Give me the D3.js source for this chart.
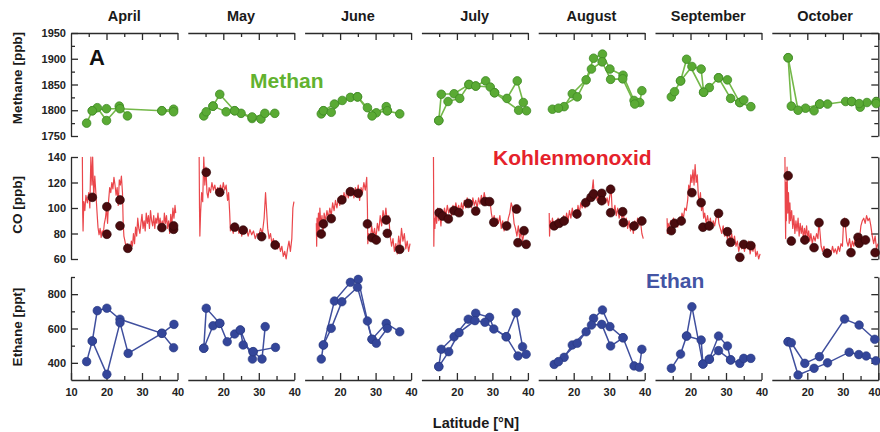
<!DOCTYPE html>
<html>
<head>
<meta charset="utf-8">
<script src="https://cdn.jsdelivr.net/npm/d3@7"></script>
<style>
  body { margin: 0; background: #fff; }
  svg { display: block; font-family: "Liberation Sans", Arial, sans-serif; }
</style>
</head>
<body>
<div id="chart"></div>
<script>
const months = ["April", "May", "June", "July", "August", "September", "October"];

// tick values
const latTicks = [15, 20, 25, 30, 35, 40];
const methaneTicks = [1750, 1775, 1800, 1825, 1850, 1875, 1900, 1925, 1950];
const methaneLabels = [1750, 1800, 1850, 1900, 1950];
const coTicks = [60, 80, 100, 120, 140];
const coLabels = [60, 80, 100, 120, 140];
const ethaneTicks = [400, 500, 600, 700, 800, 900];
const ethaneLabels = [400, 600, 800];

// methane [latitude, ppb], flight legs per month
const methaneLegs = [
  [[[14.4,1775],[16,1799],[17.4,1805],[20,1780],[23.6,1808],[25.9,1789]],
   [[16,1799],[20,1803],[23.8,1803],[35.6,1799],[38.9,1802],[38.9,1797],[35.6,1799]]],
  [[[14.5,1789],[15.2,1797],[17.1,1808],[19,1831],[23.2,1799],[25,1794],[28.1,1784],[30.6,1783],[31.7,1794]],
   [[17.1,1808],[20.8,1797],[23.2,1799],[28.1,1787],[34.5,1794]]],
  [[[14.7,1793],[15.3,1799],[18.4,1812],[22.9,1825],[24.9,1826],[27.7,1805],[30.2,1795],[33.3,1799],[36.8,1793]],
   [[15.3,1799],[17.5,1796],[20.6,1819],[24.9,1826],[29,1789],[33,1807],[33.3,1799]]],
  [[[14.9,1780],[15.6,1831],[19.2,1832],[23.4,1850],[25.3,1847],[28.1,1857],[30.6,1834],[34.1,1823],[37,1857],[38.7,1815]],
   [[14.9,1780],[17.5,1817],[20.8,1823],[23.4,1850],[25.3,1847],[29.4,1845],[30.6,1834],[37.4,1800],[39.6,1799]]],
  [[[14,1802],[17.3,1807],[19.6,1832],[23.5,1859],[25.6,1901],[28.1,1909],[30.2,1880],[33.9,1868],[37,1819],[38.6,1815],[39.2,1838]],
   [[15.7,1804],[21,1826],[25,1880],[28,1894],[30.4,1860],[33.8,1861],[37.2,1812]]],
  [[[14.6,1826],[15.5,1836],[17.2,1857],[18.9,1899],[23.7,1835],[25.3,1844],[27.9,1863],[31.3,1823],[33.9,1815],[37,1807]],
   [[17.2,1857],[20.4,1885],[23,1880],[23.7,1835]],
   [[27.9,1863],[30.4,1859],[33.9,1815],[35,1820]]],
  [[[14.6,1902],[15.5,1808],[19.5,1804],[23.5,1812],[25.7,1812],[30.8,1817],[32.5,1817],[34.9,1806],[36.8,1815],[39.4,1817]],
   [[14.6,1902],[17.4,1800],[21.9,1799],[23.5,1812]],
   [[32.5,1817],[34.6,1813],[39.4,1813]]]
];

// CO flask samples [latitude, ppb]
const coPoints = [
  [[16,108.4],[20.1,101],[20.1,79.4],[23.8,106.3],[23.8,86],[26,68.4],[35.6,84.6],[38.9,83.3],[38.9,86]],
  [[15.2,128],[19,112.3],[23.2,85],[25.6,82.7],[30.8,77.5],[34.6,71]],
  [[14.7,79.6],[15.3,87.5],[17.5,91.6],[20.5,106.3],[22.9,112.8],[25.1,111.5],[27.7,87.5],[29,76.7],[30.2,74.9],[33,90.6],[33.3,80.1],[36.8,67.6]],
  [[15,96.3],[16,93.7],[17.6,91.4],[19.2,97.9],[20.6,96.3],[23.2,103.6],[25.3,97.6],[27.9,105],[29.2,105],[30.4,88.8],[34,85.9],[36.8,99.2],[37.2,72.8],[38.9,82.2],[39.5,71.5]],
  [[14.5,86],[15.9,88],[17.3,89.8],[20.9,95.3],[23.4,104.2],[24.9,108.4],[25.6,111],[27.9,111.5],[27.9,105.7],[30.4,114.7],[30.4,96.3],[33.8,97.1],[34,88.5],[37,85.9],[39.2,89.8]],
  [[14.6,82.2],[15.5,88],[17.4,89.8],[20.4,112],[23,104.2],[23.5,84.9],[25.3,85.9],[27.9,95.8],[30.4,81.4],[31.3,73.1],[33.9,61.3],[35,71.5],[37,70.5]],
  [[14.6,125.3],[15.5,74.1],[19.3,74.9],[21.9,68.9],[23.3,88.5],[25.6,64.5],[30.6,88.5],[32.3,65],[34.3,77],[34.6,72.3],[36.4,74.9],[39.1,65]]
];

// CO continuous record [latitude, ppb]
const coTraces = [
  [[13.2,140],[13.3,95],[13.4,82],[13.6,105],[13.9,98],[14.2,110],[14.6,104],[15,112],[15.3,100],[15.6,140],[15.9,118],[16.1,140],[16.4,108],[16.7,125],[17,112],[17.3,98],[17.6,85],[17.9,79],[18.2,84],[18.5,77],[18.8,82],[19.1,80],[19.4,88],[19.7,92],[20,100],[20.3,88],[20.6,106],[20.9,116],[21.2,112],[21.5,120],[21.8,115],[22.1,124],[22.4,118],[22.7,110],[23,116],[23.3,102],[23.6,122],[23.9,118],[24.2,125],[24.5,112],[24.7,88],[24.9,78],[25.2,74],[25.5,69],[25.8,72],[26.1,66],[26.4,70],[26.7,68],[27,74],[27.3,70],[27.6,80],[27.9,72],[28.2,85],[28.5,78],[28.8,92],[29.1,84],[29.4,80],[29.7,88],[30,95],[30.3,84],[30.6,90],[30.9,82],[31.2,96],[31.5,88],[31.8,94],[32.1,84],[32.4,98],[32.7,90],[33,86],[33.3,94],[33.6,84],[33.9,92],[34.2,88],[34.5,96],[34.8,86],[35.1,92],[35.4,84],[35.7,90],[36,82],[36.3,96],[36.6,88],[36.9,94],[37.2,84],[37.5,90],[37.8,80],[38.1,95],[38.4,86],[38.7,100],[39,92],[39.3,102],[39.5,96]],
  [[13.2,140],[13.3,100],[13.4,78],[13.6,96],[13.9,112],[14.2,105],[14.5,140],[14.8,118],[15.1,132],[15.4,112],[15.7,108],[16,116],[16.4,112],[16.8,120],[17.2,114],[17.6,118],[18,112],[18.4,116],[18.8,110],[19.2,118],[19.6,112],[20,120],[20.4,114],[20.8,118],[21.2,106],[21.5,112],[21.8,96],[22,82],[22.4,86],[22.8,80],[23.2,88],[23.6,82],[24,86],[24.4,80],[24.8,84],[25.2,78],[25.6,85],[26,80],[26.5,84],[27,78],[27.5,83],[28,79],[28.5,82],[29,76],[29.5,80],[30,78],[30.5,84],[31,80],[31.5,92],[31.9,112],[32.2,98],[32.5,84],[32.9,76],[33.3,80],[33.7,72],[34.1,76],[34.5,70],[34.9,74],[35.3,68],[35.7,72],[36.1,66],[36.5,70],[36.9,62],[37.3,66],[37.7,60],[38.1,68],[38.5,74],[38.9,66],[39.3,76],[39.6,100],[39.9,105]],
  [[13.3,88],[13.4,70],[13.5,92],[13.7,78],[13.9,96],[14.1,82],[14.3,100],[14.6,86],[14.9,94],[15.2,80],[15.5,96],[15.9,90],[16.3,98],[16.7,92],[17.1,100],[17.5,94],[17.9,104],[18.3,98],[18.7,106],[19.1,100],[19.5,108],[19.9,102],[20.3,110],[20.7,104],[21.1,112],[21.5,106],[21.9,114],[22.3,108],[22.7,116],[23.1,110],[23.5,115],[23.9,108],[24.3,116],[24.7,110],[25.1,118],[25.5,106],[25.9,116],[26.3,112],[26.7,120],[27.1,114],[27.5,124],[27.7,100],[27.8,72],[28.1,80],[28.5,74],[28.9,86],[29.3,78],[29.7,84],[30.1,76],[30.5,88],[30.9,82],[31.3,94],[31.7,86],[32.1,98],[32.5,90],[32.9,100],[33.3,88],[33.7,94],[34.1,78],[34.5,70],[34.9,76],[35.3,66],[35.7,72],[36.1,64],[36.5,78],[36.9,70],[37.3,84],[37.7,74],[38.1,80],[38.5,68],[38.9,74],[39.3,66],[39.7,72]],
  [[13.4,140],[13.45,110],[13.5,70],[13.6,92],[13.8,84],[14,98],[14.3,88],[14.6,100],[14.9,90],[15.2,96],[15.5,86],[15.8,98],[16.1,92],[16.5,100],[16.9,94],[17.3,102],[17.7,96],[18.1,100],[18.5,94],[18.9,102],[19.3,97],[19.7,104],[20.1,98],[20.5,102],[20.9,96],[21.3,104],[21.7,99],[22.1,106],[22.5,100],[22.9,108],[23.3,102],[23.7,106],[24.1,100],[24.5,108],[24.9,102],[25.3,106],[25.7,100],[26.1,108],[26.5,103],[26.9,110],[27.3,104],[27.7,112],[28.1,106],[28.5,108],[28.9,102],[29.3,106],[29.7,96],[30.1,90],[30.5,94],[30.9,86],[31.3,92],[31.7,88],[32.1,94],[32.5,84],[32.9,90],[33.3,82],[33.7,88],[34.1,84],[34.5,92],[34.9,96],[35.3,104],[35.7,100],[36.1,88],[36.5,84],[36.9,78],[37.3,86],[37.7,76],[38.1,82],[38.5,74],[38.9,80]],
  [[13.1,96],[13.2,78],[13.4,90],[13.7,84],[14,92],[14.4,86],[14.8,90],[15.2,84],[15.6,92],[16,86],[16.4,90],[16.8,88],[17.2,94],[17.6,88],[18,96],[18.4,90],[18.8,98],[19.2,92],[19.6,100],[20,94],[20.4,98],[20.8,92],[21.2,102],[21.6,96],[22,104],[22.4,100],[22.8,106],[23.2,100],[23.6,108],[24,102],[24.4,110],[24.8,106],[25.2,114],[25.5,122],[25.8,108],[26.2,112],[26.6,106],[27,110],[27.4,104],[27.8,112],[28.2,106],[28.6,110],[29,104],[29.4,108],[29.8,102],[30.2,110],[30.5,117],[30.8,100],[31.2,96],[31.6,102],[32,94],[32.4,100],[32.8,92],[33.2,98],[33.6,92],[34,96],[34.4,86],[34.8,92],[35.2,84],[35.6,90],[36,82],[36.4,88],[36.8,80],[37.2,90],[37.6,84],[38,92],[38.4,86],[38.8,90],[39.2,80],[39.6,76]],
  [[13.4,92],[13.5,80],[13.7,88],[14,84],[14.4,90],[14.8,86],[15.2,92],[15.6,86],[16,90],[16.4,85],[16.8,92],[17.2,88],[17.6,96],[18,92],[18.4,100],[18.8,98],[19.2,106],[19.5,118],[19.8,112],[20.1,126],[20.4,120],[20.7,130],[21,118],[21.3,134],[21.6,120],[21.9,126],[22.2,110],[22.5,104],[22.8,112],[23.1,98],[23.4,104],[23.7,92],[24,96],[24.4,88],[24.8,94],[25.2,86],[25.6,92],[26,84],[26.4,90],[26.8,86],[27.2,92],[27.6,98],[28,88],[28.4,84],[28.8,80],[29.2,86],[29.6,78],[30,84],[30.4,76],[30.8,82],[31.2,74],[31.6,80],[32,72],[32.4,78],[32.8,70],[33.2,74],[33.6,66],[34,72],[34.4,68],[34.8,74],[35.2,66],[35.6,72],[36,68],[36.4,74],[36.8,64],[37.2,70],[37.6,66],[38,72],[38.4,62],[38.8,66],[39.2,60],[39.6,64]],
  [[13.7,140],[13.8,100],[13.9,76],[14,120],[14.1,90],[14.3,132],[14.5,96],[14.7,112],[14.9,88],[15.1,104],[15.3,90],[15.6,98],[15.9,84],[16.2,94],[16.5,80],[16.8,90],[17.1,82],[17.4,92],[17.7,78],[18,88],[18.3,80],[18.6,86],[18.9,76],[19.2,84],[19.5,78],[19.8,86],[20.1,76],[20.4,82],[20.7,74],[21,80],[21.4,72],[21.8,78],[22.2,74],[22.6,80],[23,76],[23.3,90],[23.6,80],[23.9,70],[24.3,66],[24.7,70],[25.1,64],[25.5,68],[25.9,63],[26.3,67],[26.7,64],[27.1,70],[27.5,65],[27.9,68],[28.3,64],[28.7,70],[29.1,66],[29.5,72],[29.9,70],[30.2,88],[30.5,92],[30.8,84],[31.1,74],[31.5,70],[31.9,76],[32.3,68],[32.7,74],[33.1,70],[33.5,78],[33.9,72],[34.3,80],[34.7,76],[35.1,86],[35.5,90],[35.9,92],[36.3,88],[36.7,94],[37.1,90],[37.5,92],[37.9,86],[38.3,78],[38.7,72],[39.1,78],[39.5,68],[39.9,72]]
];

// ethane [latitude, ppt], flight legs per month
const ethaneLegs = [
  [[[14.4,407],[16,527],[17.4,704],[20.1,718],[23.8,654],[35.6,572],[38.9,488]],
   [[16,527],[20.1,333],[23.8,634],[26.1,455],[35.6,572],[39,624]]],
  [[[14.5,485],[15.2,718],[19,630],[21.1,523],[23.2,568],[24.8,591],[25.6,504],[28.4,465],[30.9,422],[31.8,611]],
   [[14.5,485],[17.1,616],[19,630]],
   [[24.8,591],[28.2,422],[28.4,465],[34.7,490]]],
  [[[14.7,422],[15.3,504],[18.4,760],[22.9,869],[25.1,886],[27.7,644],[29,537],[33,630],[36.8,581]],
   [[15.3,504],[17.5,601],[20.5,756],[24.9,840],[29,537],[30.2,514],[33.3,601]]],
  [[[14.9,378],[15.6,479],[19.2,552],[23.2,654],[25.3,689],[29.2,665],[30.4,597],[33.9,552],[36.7,692],[38.5,494]],
   [[14.9,378],[17.7,465],[20.6,576],[25.1,646],[27.9,636],[33.9,552],[37.2,440],[39.5,450]]],
  [[[14.5,391],[17.3,432],[19.6,504],[23.5,581],[25.6,659],[28.1,708],[30.2,611],[33.9,546],[37,382],[38.5,374],[39.2,479]],
   [[15.7,407],[21,514],[25,620],[27.9,624],[30.4,498],[33.9,546]]],
  [[[14.6,368],[17.2,451],[18.9,556],[20.4,727],[23.5,393],[25.3,421],[27.9,556],[30.4,498],[31.3,417],[33.9,397],[35,426],[37,426]],
   [[18.9,556],[23,533],[23.5,393]],
   [[25.3,421],[27.9,471],[31.3,417]]],
  [[[14.6,523],[17.4,329],[21.9,368],[25.7,400],[31.8,462],[34.5,448],[36.6,440],[39.3,412]],
   [[14.6,523],[15.5,517],[19.3,397],[23.4,436],[30.5,655],[34.6,620],[39,537]]]
];

const width = 880, height = 432;
const panelLeft = 71, panelStep = 116.8, panelWidth = 106.5;
const axisColor = "#2b2b2b";

const svg = d3.select("#chart").append("svg")
    .attr("width", width)
    .attr("height", height);

const defs = svg.append("defs");

function xScaleFor(i) {
    const x0 = panelLeft + i * panelStep;
    return d3.scaleLinear().domain([10, 40]).range([x0, x0 + panelWidth]);
}

const yMethane = d3.scaleLinear().domain([1750, 1950]).range([136, 33]);
const yCO = d3.scaleLinear().domain([60, 140]).range([259, 157]);
const yEthane = d3.scaleLinear().domain([300, 900]).range([380, 277]);

function styleAxis(g) {
    g.attr("font-family", null).attr("font-size", 11).attr("font-weight", "bold");
    g.selectAll("path, line").attr("stroke", axisColor).attr("stroke-width", 1.3);
    g.selectAll("text").attr("fill", "#222");
}

// left axes (April) and right axes (October)
const rowAxes = [
    {y: yMethane, ticks: methaneTicks, labels: methaneLabels},
    {y: yCO, ticks: coTicks, labels: coLabels},
    {y: yEthane, ticks: ethaneTicks, labels: ethaneLabels}
];
rowAxes.forEach(r => {
    const left = svg.append("g")
        .attr("transform", "translate(" + panelLeft + ",0)")
        .call(d3.axisLeft(r.y).tickValues(r.ticks).tickSize(-7).tickSizeOuter(0).tickPadding(5)
            .tickFormat(d => r.labels.includes(d) ? d : ""));
    left.selectAll(".tick line").attr("x2", d => r.labels.includes(d) ? 7 : 4);
    styleAxis(left);

    const xr = panelLeft + 6 * panelStep + panelWidth;
    const right = svg.append("g")
        .attr("transform", "translate(" + xr + ",0)")
        .call(d3.axisRight(r.y).tickValues(r.ticks).tickSize(-7).tickSizeOuter(0).tickFormat(""));
    right.selectAll(".tick line").attr("x2", d => r.labels.includes(d) ? -7 : -4);
    styleAxis(right);
});

const lineGen = (x, y) => d3.line().x(d => x(d[0])).y(d => y(d[1]));

months.forEach((m, i) => {
    const x = xScaleFor(i);

    // month title
    svg.append("text")
        .attr("x", (x.range()[0] + x.range()[1]) / 2)
        .attr("y", 21)
        .attr("text-anchor", "middle")
        .attr("font-size", 14.5)
        .attr("font-weight", "bold")
        .attr("fill", "#1a1a1a")
        .text(m);

    // top axis
    const top = svg.append("g")
        .attr("transform", "translate(0," + yMethane.range()[1] + ")")
        .call(d3.axisTop(x).tickValues(latTicks).tickSize(-7).tickSizeOuter(0).tickFormat(""));
    top.selectAll(".tick line").attr("y2", d => d % 10 === 0 ? 7 : 4);
    styleAxis(top);

    // bottom axis
    const bTicks = i === 0 ? [10].concat(latTicks) : latTicks;
    const bottom = svg.append("g")
        .attr("transform", "translate(0," + yEthane.range()[0] + ")")
        .call(d3.axisBottom(x).tickValues(bTicks).tickSize(-7).tickSizeOuter(0).tickPadding(8)
            .tickFormat(d => d % 10 === 0 ? d : ""));
    bottom.selectAll(".tick line").attr("y2", d => d % 10 === 0 ? -7 : -4);
    styleAxis(bottom);
    if (i === months.length - 1) {
        // last label sits against the page edge
        bottom.selectAll(".tick text").filter(d => d === 40)
            .attr("text-anchor", "end").attr("x", 2);
    }

    // methane
    const gM = svg.append("g");
    gM.selectAll("path").data(methaneLegs[i]).enter().append("path")
        .attr("d", lineGen(x, yMethane))
        .attr("fill", "none")
        .attr("stroke", "#74b849")
        .attr("stroke-width", 1.6);
    gM.selectAll("circle").data(methaneLegs[i].flat()).enter().append("circle")
        .attr("cx", d => x(d[0]))
        .attr("cy", d => yMethane(d[1]))
        .attr("r", 4.3)
        .attr("fill", "#5aaa34")
        .attr("stroke", "#3f8a24")
        .attr("stroke-width", 0.8);

    // CO
    const clipId = "clip" + i;
    defs.append("clipPath").attr("id", clipId).append("rect")
        .attr("x", x.range()[0] - 1).attr("y", 155)
        .attr("width", panelWidth + 2).attr("height", 106);
    svg.append("path")
        .datum(coTraces[i])
        .attr("clip-path", "url(#" + clipId + ")")
        .attr("d", lineGen(x, yCO))
        .attr("fill", "none")
        .attr("stroke", "#e6262b")
        .attr("stroke-width", 1.2)
        .attr("stroke-linejoin", "round")
        .attr("opacity", 0.85);
    svg.append("g").selectAll("circle").data(coPoints[i]).enter().append("circle")
        .attr("cx", d => x(d[0]))
        .attr("cy", d => yCO(d[1]))
        .attr("r", 4.4)
        .attr("fill", "#4a0b0e")
        .attr("stroke", "#2e0506")
        .attr("stroke-width", 0.6);

    // ethane
    const gE = svg.append("g");
    gE.selectAll("path").data(ethaneLegs[i]).enter().append("path")
        .attr("d", lineGen(x, yEthane))
        .attr("fill", "none")
        .attr("stroke", "#3f4f9e")
        .attr("stroke-width", 1.5);
    gE.selectAll("circle").data(ethaneLegs[i].flat()).enter().append("circle")
        .attr("cx", d => x(d[0]))
        .attr("cy", d => yEthane(d[1]))
        .attr("r", 4.3)
        .attr("fill", "#34469a")
        .attr("stroke", "#26377f")
        .attr("stroke-width", 0.6);
});

// axis titles
const yTitles = [
    {text: "Methane [ppb]", cy: 78},
    {text: "CO [ppb]", cy: 205},
    {text: "Ethane [ppt]", cy: 327}
];
yTitles.forEach(t => {
    svg.append("text")
        .attr("transform", "translate(22," + t.cy + ") rotate(-90)")
        .attr("text-anchor", "middle")
        .attr("font-size", 13.5)
        .attr("font-weight", "bold")
        .attr("fill", "#1a1a1a")
        .text(t.text);
});

svg.append("text")
    .attr("x", 476).attr("y", 428)
    .attr("text-anchor", "middle")
    .attr("font-size", 14.5)
    .attr("font-weight", "bold")
    .attr("fill", "#1a1a1a")
    .text("Latitude [°N]");

// panel letter and species names
svg.append("text")
    .attr("x", 89).attr("y", 65)
    .attr("font-size", 22).attr("font-weight", "bold").attr("fill", "#111")
    .text("A");

svg.append("text")
    .attr("x", 250).attr("y", 88)
    .attr("font-size", 21).attr("font-weight", "bold").attr("fill", "#62b22f")
    .text("Methan");

svg.append("text")
    .attr("x", 493).attr("y", 165)
    .attr("font-size", 21).attr("font-weight", "bold").attr("fill", "#e5222b")
    .text("Kohlenmonoxid");

svg.append("text")
    .attr("x", 646).attr("y", 288)
    .attr("font-size", 21).attr("font-weight", "bold").attr("fill", "#4354a4")
    .text("Ethan");
</script>
</body>
</html>
